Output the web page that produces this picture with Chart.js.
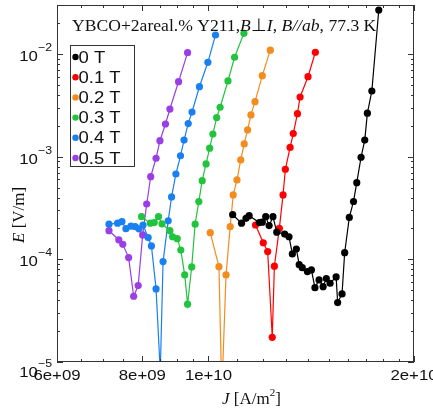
<!DOCTYPE html>
<html><head><meta charset="utf-8">
<script src="https://cdn.jsdelivr.net/npm/chart.js@4/dist/chart.umd.min.js"></script>
<style>html,body{margin:0;padding:0;background:#fff}#wrap{width:433px;height:416px}</style>
</head><body><div id="wrap"><canvas id="c" width="433" height="416"></canvas></div>
<script>
const seriesNames = ['0 T','0.1 T','0.2 T','0.3 T','0.4 T','0.5 T'];
const seriesColors = ['#000000','#ff0000','#f28c1e','#22c43e','#1a80f2','#9a3ee6'];

const J_0T = [1.085e10,1.118e10,1.135e10,1.147e10,1.187e10,1.199e10,1.213e10,1.227e10,1.243e10,1.259e10,1.293e10,1.312e10,1.327e10,1.345e10,1.358e10,1.372e10,1.396e10,1.415e10,1.432e10,1.452e10,1.472e10,1.488e10,1.507e10,1.538e10,1.546e10,1.569e10,1.583e10,1.608e10,1.631e10,1.649e10,1.673e10,1.694e10,1.709e10,1.735e10,1.776e10];
const E_0T = [2.72e-4,2.25e-4,2.51e-4,2.66e-4,2.28e-4,2.30e-4,2.60e-4,2.13e-4,2.60e-4,1.84e-4,1.76e-4,1.66e-4,1.13e-4,1.26e-4,8.88e-5,8.30e-5,7.59e-5,7.88e-5,5.30e-5,6.30e-5,5.42e-5,6.49e-5,5.85e-5,6.74e-5,3.79e-5,4.60e-5,1.16e-4,2.56e-4,3.66e-4,5.58e-4,9.87e-4,1.45e-3,2.65e-3,4.36e-3,2.68e-2];

const J_01T = [1.172e10,1.203e10,1.221e10,1.240e10,1.249e10,1.270e10,1.286e10,1.296e10,1.317e10,1.331e10,1.350e10,1.362e10,1.399e10,1.434e10];
const E_01T = [2.16e-4,1.45e-4,1.19e-4,1.74e-5,8.57e-5,2.00e-4,4.24e-4,7.54e-4,1.23e-3,1.68e-3,2.62e-3,3.81e-3,6.01e-3,1.04e-2];

const J_02T = [1.006e10,1.036e10,1.046e10,1.061e10,1.076e10,1.087e10,1.101e10,1.115e10,1.128e10,1.141e10,1.154e10,1.170e10,1.199e10,1.232e10];
const E_02T = [1.82e-4,8.49e-5,5e-6,7.05e-5,2.08e-4,4.24e-4,5.93e-4,9.29e-4,1.33e-3,1.82e-3,2.55e-3,3.43e-3,6.15e-3,1.09e-2];

const J_03T = [7.98e9,8.22e9,8.33e9,8.45e9,8.55e9,8.78e9,8.86e9,9.00e9,9.11e9,9.23e9,9.32e9,9.45e9,9.56e9,9.68e9,9.79e9,9.92e9,1.004e10,1.015e10,1.028e10,1.040e10,1.068e10,1.092e10,1.127e10];
const E_03T = [2.60e-4,2.25e-4,2.28e-4,2.60e-4,2.21e-4,1.90e-4,1.66e-4,1.59e-4,1.23e-4,7.05e-5,3.66e-5,8.43e-5,2.20e-4,3.65e-4,5.84e-4,8.49e-4,1.21e-3,1.66e-3,2.40e-3,3.03e-3,5.46e-3,9.29e-3,1.59e-2];

const J_04T = [7.15e9,7.36e9,7.47e9,7.57e9,7.70e9,7.81e9,7.91e9,8.02e9,8.16e9,8.25e9,8.38e9,8.50e9,8.58e9,8.73e9,8.83e9,8.96e9,9.10e9,9.21e9,9.34e9,9.46e9,9.70e9,9.98e9,1.024e10];
const E_04T = [2.20e-4,2.25e-4,2.33e-4,1.99e-4,2.11e-4,2.08e-4,1.98e-4,2.16e-4,1.63e-4,1.35e-4,5.15e-5,8e-6,9.50e-5,2.37e-4,4.05e-4,6.78e-4,1.02e-3,1.45e-3,2.10e-3,2.72e-3,4.80e-3,8.30e-3,1.53e-2];

const J_05T = [7.15e9,7.39e9,7.49e9,7.64e9,7.77e9,7.89e9,8.01e9,8.12e9,8.23e9,8.38e9,8.49e9,8.65e9,8.78e9,9.04e9,9.32e9];
const E_05T = [1.90e-4,1.55e-4,1.40e-4,1.04e-4,4.37e-5,5.55e-5,1.73e-4,3.46e-4,6.39e-4,9.65e-4,1.43e-3,2.08e-3,2.91e-3,5.37e-3,1.03e-2];

const xMin = 6e9, xMax = 2e10, yMin = 1e-5, yMax = 3e-2;
const xTickValues = [6e9, 8e9, 1e10, 2e10];
const xTickLabels = ['6e+09','8e+09','1e+10','2e+10'];
const xMinorTicks = [6.5e9,7e9,7.5e9,8.5e9,9e9,9.5e9,1.1e10,1.2e10,1.3e10,1.4e10,1.5e10,1.6e10,1.7e10,1.8e10,1.9e10];
const yTickValues = [1e-5,1e-4,1e-3,1e-2];
const yTickExponents = ['\u22125','\u22124','\u22123','\u22122'];
const titleParts = [['YBCO+2areal.% Y211,',false],['B',true],['\u22A5',false],['I',true],[', ',false],['B//ab',true],[', 77.3 K',false]];

const allJ = [J_0T,J_01T,J_02T,J_03T,J_04T,J_05T];
const allE = [E_0T,E_01T,E_02T,E_03T,E_04T,E_05T];

const datasets = allJ.map((J,k)=>({
  label: seriesNames[k],
  data: J.map((j,i)=>({x:j,y:allE[k][i]})),
  showLine:true, borderColor:seriesColors[k], backgroundColor:seriesColors[k],
  borderWidth:1.2, pointRadius:3.6, pointBorderWidth:0, pointHoverRadius:3.6, tension:0
}));

const SANS = '"Liberation Sans", Arial, sans-serif';
const SERIF = '"Liberation Serif", "Times New Roman", serif';
const SX = 1.12;

function drawMixed(ctx, parts, x, y, size){
  let cx = x;
  for (const [t,it] of parts){
    ctx.font = (it?'italic ':'') + size + 'px ' + SERIF;
    ctx.fillText(t, cx, y);
    cx += ctx.measureText(t).width;
  }
  return cx;
}
function stretchText(ctx, t, x, y, align){
  ctx.save();
  ctx.translate(x,y); ctx.scale(SX,1);
  ctx.textAlign = align; ctx.fillText(t,0,0);
  ctx.restore();
}

const decor = {
  id:'decor',
  afterDraw(chart){
    const ctx = chart.ctx, a = chart.chartArea;
    const xs = chart.scales.x, ys = chart.scales.y;
    ctx.save();
    ctx.strokeStyle = '#333'; ctx.lineWidth = 1;
    ctx.strokeRect(Math.round(a.left)+0.5, Math.round(a.top)+0.5, Math.round(a.right-a.left)-1, Math.round(a.bottom-a.top)-1);
    ctx.beginPath();
    const L=6, S=3;
    for (const v of xTickValues){ const p=Math.round(xs.getPixelForValue(v))+0.5; ctx.moveTo(p,a.bottom); ctx.lineTo(p,a.bottom-L); ctx.moveTo(p,a.top); ctx.lineTo(p,a.top+L);} 
    for (const v of xMinorTicks){ const p=Math.round(xs.getPixelForValue(v))+0.5; ctx.moveTo(p,a.bottom); ctx.lineTo(p,a.bottom-S); ctx.moveTo(p,a.top); ctx.lineTo(p,a.top+S);} 
    for (let e=-5;e<=-2;e++){
      for (let m=1;m<=9;m++){
        const v=m*Math.pow(10,e); if (v<yMin||v>yMax) continue;
        const p=Math.round(ys.getPixelForValue(v))+0.5; const len = m===1?L:S;
        ctx.moveTo(a.left,p); ctx.lineTo(a.left+len,p); ctx.moveTo(a.right,p); ctx.lineTo(a.right-len,p);
      }
    }
    ctx.stroke();
    // tick labels
    ctx.fillStyle = '#111';
    ctx.textBaseline = 'middle';
    ctx.font = '15px ' + SANS;
    xTickValues.forEach((v,i)=>{ stretchText(ctx, xTickLabels[i], xs.getPixelForValue(v), a.bottom+14, 'center'); });
    yTickValues.forEach((v,i)=>{
      const p = ys.getPixelForValue(v) + (i===0 ? 8 : 0);
      ctx.font = '11px ' + SANS;
      const w = ctx.measureText(yTickExponents[i]).width*SX;
      stretchText(ctx, yTickExponents[i], a.left-5, p-6, 'right');
      ctx.font = '15px ' + SANS;
      stretchText(ctx, '10', a.left-5-w, p+3, 'right');
    });
    // title
    ctx.textBaseline = 'alphabetic';
    ctx.textAlign = 'left';
    drawMixed(ctx, titleParts, 72, 31, 17.6);
    // axis titles
    let xe = drawMixed(ctx, [['J',true],[' [A/m',false]], 222, 404, 17);
    ctx.font = '11px ' + SERIF; ctx.fillText('2', xe, 396); xe += ctx.measureText('2').width;
    drawMixed(ctx, [[']',false]], xe, 404, 17);
    ctx.save(); ctx.translate(24, 243); ctx.rotate(-Math.PI/2);
    drawMixed(ctx, [['E',true],[' [V/m]',false]], 0, 0, 17);
    ctx.restore();
    // legend
    const lx=70, ly=45, lw=64, lh=121;
    ctx.fillStyle='#fff'; ctx.fillRect(lx,ly,lw,lh);
    ctx.strokeStyle='#333'; ctx.strokeRect(lx+0.5,ly+0.5,lw,lh);
    ctx.textBaseline='middle';
    ctx.font = '16.5px ' + SANS;
    seriesNames.forEach((n,i)=>{
      const yy = 57 + i*20.2;
      ctx.fillStyle = seriesColors[i]; ctx.beginPath(); ctx.arc(75.5, yy, 3.2, 0, Math.PI*2); ctx.fill();
      ctx.fillStyle = '#111'; stretchText(ctx, n, 78.5, yy+1, 'left');
    });
    ctx.restore();
  }
};

new Chart(document.getElementById('c'), {
  type:'scatter',
  data:{datasets},
  options:{
    responsive:false, animation:false, devicePixelRatio:1,
    layout:{padding:{left:57,right:19,top:5,bottom:54}},
    plugins:{legend:{display:false}, tooltip:{enabled:false}},
    scales:{
      x:{type:'logarithmic', min:xMin, max:xMax, display:false},
      y:{type:'logarithmic', min:yMin, max:yMax, display:false}
    }
  },
  plugins:[decor]
});
</script></body></html>
